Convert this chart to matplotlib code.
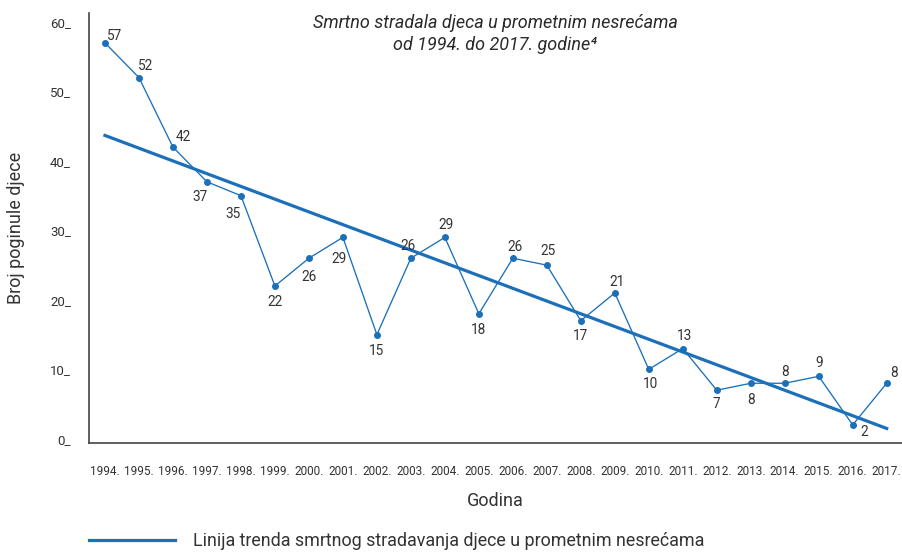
import numpy as np
import matplotlib
matplotlib.use('Agg')
from matplotlib import pyplot as plt

plt.rcParams['font.family'] = ['Roboto', 'DejaVu Sans']

# data
years = list(range(1994, 2018))
deaths = [57, 52, 42, 37, 35, 22, 26, 29, 15, 26, 29, 18,
          26, 25, 17, 21, 10, 13, 7, 8, 8, 9, 2, 8]
year_labels = [f'{y}.' for y in years]
y_ticks = [0, 10, 20, 30, 40, 50, 60]
y_tick_labels = [f'{t}_' for t in y_ticks]

# where each value label sits relative to its point (pixels)
label_offsets = [(10, 7), (7, 12), (10, 10), (-7, -15), (-8, -18), (0, -16),
                 (0, -19), (-4, -22), (0, -16), (-3, 12), (1, 12), (0, -16),
                 (2, 11), (1, 14), (0, -15), (2, 11), (2, -15), (2, 13),
                 (0, -14), (0, -17), (0, 11), (0, 13), (11, -7), (7, 10)]

title = 'Smrtno stradala djeca u prometnim nesrećama\nod 1994. do 2017. godine⁴'
legend_label = 'Linija trenda smrtnog stradavanja djece u prometnim nesrećama'

BLUE = '#1b70b9'
TXT = '#333333'

fig = plt.figure(figsize=(9.02, 5.52), dpi=100)
ax = fig.add_axes([89 / 902, 1 - 443 / 552, 1 - 89 / 902, (443 - 13) / 552])

x = np.array(years)
y = np.array(deaths)
ax.plot(x, y, color=BLUE, lw=0.95, marker='o', ms=4, zorder=3)

# least-squares trend
k, b = np.polyfit(x, y, 1)
trend, = ax.plot(x, k * x + b, color=BLUE, lw=2.3, zorder=2)

for xi, yi, (dx, dy) in zip(x, y, label_offsets):
    ax.annotate(str(yi), (xi, yi), xytext=(dx, dy), textcoords='offset pixels',
                ha='center', va='center', fontsize=9.8, color=TXT)

ax.set_xlim(1993.53, 2017.45)
ax.set_ylim(-0.6, 61.3)
ax.set_xticks(years)
ax.set_xticklabels(year_labels, fontsize=8.5, color=TXT)
ax.set_yticks(y_ticks)
ax.set_yticklabels(y_tick_labels, fontsize=9.5, color=TXT)
ax.tick_params(axis='x', length=0, pad=16)
ax.tick_params(axis='y', length=0, pad=13)

for s in ['top', 'right']:
    ax.spines[s].set_visible(False)
for s in ['left', 'bottom']:
    ax.spines[s].set_color('#444444')
    ax.spines[s].set_linewidth(1.2)

ax.set_ylabel('Broj poginule djece', fontsize=13, color=TXT)
ax.yaxis.set_label_coords(-0.079, 0.5)
ax.set_xlabel('Godina', fontsize=13, color=TXT)
ax.xaxis.set_label_coords(0.5, -0.113)

fig.text(495 / 902, 1 - 34 / 552, title, ha='center', va='center',
         fontsize=13, style='italic', color='#2a2a2a', linespacing=1.3)

fig.legend([trend], [legend_label], loc='center left',
           bbox_to_anchor=(89 / 902, 1 - 541 / 552), frameon=False,
           borderpad=0, borderaxespad=0,
           fontsize=12.9, handlelength=4.8, handletextpad=1.0,
           labelcolor=TXT)

fig.savefig('out.png', dpi=100)
